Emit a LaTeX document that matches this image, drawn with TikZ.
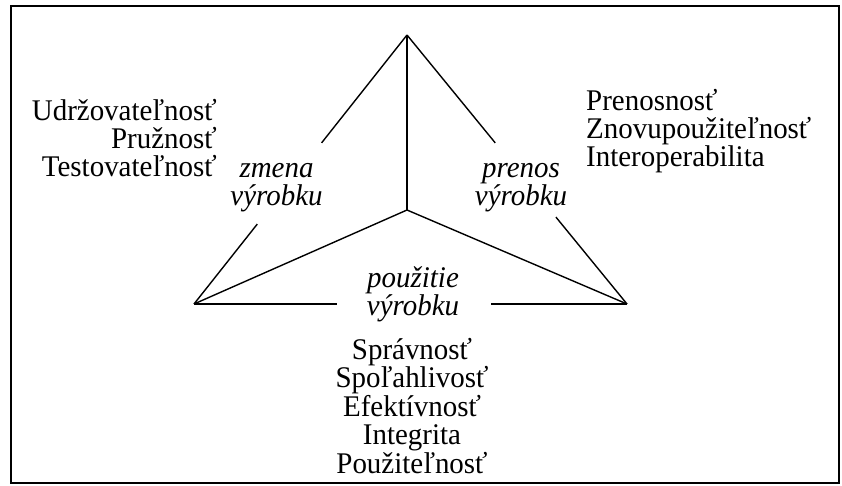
\documentclass[tikz,border=0pt]{standalone}
\usepackage{fontspec}
\setmainfont{Liberation Serif}[FakeStretch=0.965]
\usetikzlibrary{calc}
\begin{document}
\begin{tikzpicture}[x=1pt,y=-1pt,
  edge/.style={line width=1.4pt},
  frame/.style={line width=1.6pt},
  qlist/.style={inner sep=0pt, font=\fontsize{30}{28.4}\selectfont},
  view/.style={inner sep=0pt, align=center, font=\fontsize{30}{28}\selectfont\itshape}]
  \useasboundingbox (0,0) rectangle (842,486);
  \draw[frame] (11,6) rectangle (839,483);

  % vertices of the triangle and its centre
  \coordinate (top) at (407,35);
  \coordinate (left) at (194,304);
  \coordinate (right) at (627,304);
  \coordinate (mid) at (407,210);

  % inner spokes
  \draw[edge] (mid) -- (top);
  \draw[edge] (mid) -- (left);
  \draw[edge] (mid) -- (right);

  % outer edges, interrupted for the labels
  \draw[edge] (top) -- ($(top)!0.401!(left)$);
  \draw[edge] ($(top)!0.703!(left)$) -- (left);
  \draw[edge] (top) -- ($(top)!0.401!(right)$);
  \draw[edge] ($(top)!0.677!(right)$) -- (right);
  \draw[edge] (left) -- ($(left)!0.3303!(right)$);
  \draw[edge] ($(left)!0.6859!(right)$) -- (right);

  % labels on the edges (base = baseline of the last line)
  \node[view, anchor=base] (change) at (276.5,206) {zmena\\výrobku};
  \node[view, anchor=base] (transfer) at (521,206) {prenos\\výrobku};
  \node[view, anchor=base] (use) at (413,315) {použitie\\výrobku};

  % quality factors
  \node[qlist, anchor=base east, align=right] (fchange) at (217,177)
    {Udržovateľnosť\\Pružnosť\\Testovateľnosť};
  \node[qlist, anchor=base west, align=left] (ftransfer) at (586,167)
    {Prenosnosť\\Znovupoužiteľnosť\\Interoperabilita};
  \node[qlist, anchor=base, align=center] (fuse) at (412,473)
    {Správnosť\\Spoľahlivosť\\Efektívnosť\\Integrita\\Použiteľnosť};
\end{tikzpicture}
\end{document}
